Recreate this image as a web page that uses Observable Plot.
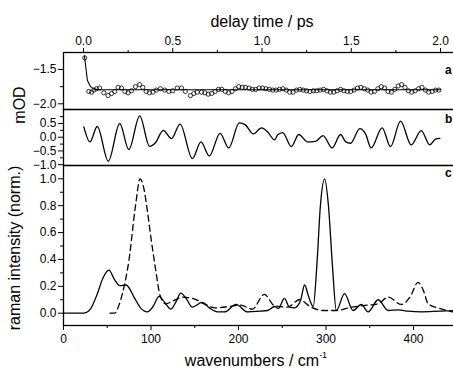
<!DOCTYPE html>
<html><head><meta charset="utf-8">
<script src="https://cdn.jsdelivr.net/npm/d3@7"></script>
<script src="https://cdn.jsdelivr.net/npm/@observablehq/plot@0.6"></script>
<style>
body{margin:0;background:#fff;}
#c{position:relative;width:453px;height:372px;overflow:hidden;font-family:"Liberation Sans",Arial,sans-serif;background:#fff;}
#c svg{position:absolute;left:0;max-width:none !important;}
.t{position:absolute;font-size:16px;color:#000;white-space:nowrap;line-height:18px;}
.lt{position:absolute;font-size:12px;font-weight:bold;color:#000;line-height:14px;}
</style></head><body><div id="c"></div>
<script>
// Panel a: transient absorption (circles) and fit (line)
const delayPts = [0.007,0.03,0.045,0.058,0.073,0.09,0.114,0.138,0.157,0.175,0.194,0.213,0.232,0.25,0.269,0.291,0.314,0.332,0.351,0.37,0.389,0.408,0.431,0.455,0.478,0.5,0.525,0.549,0.571,0.599,0.618,0.637,0.661,
 0.68,0.699,0.718,0.737,0.756,0.775,0.794,0.813,0.832,0.851,0.87,0.889,0.908,0.927,0.946,0.965,0.984,1.003,1.022,1.041,1.06,1.079,1.098,1.117,1.136,1.155,1.174,1.193,1.212,1.231,1.25,1.269,1.288,1.307,1.326,1.345,1.364,1.383,1.402,1.421,1.44,1.459,1.478,1.497,1.516,1.535,1.554,1.573,1.592,1.611,1.63,1.649,1.668,1.687,1.706,1.725,1.744,1.763,1.782,1.801,1.82,1.839,1.858,1.877,1.896,1.915,1.934,1.953,1.972,1.991];
const odPts = [-1.33,-1.82,-1.83,-1.80,-1.78,-1.77,-1.84,-1.88,-1.85,-1.82,-1.76,-1.77,-1.82,-1.84,-1.81,-1.75,-1.72,-1.76,-1.82,-1.84,-1.83,-1.80,-1.78,-1.80,-1.82,-1.81,-1.77,-1.77,-1.82,-1.88,-1.85,-1.83,-1.83,
 -1.84,-1.86,-1.85,-1.82,-1.79,-1.79,-1.82,-1.84,-1.82,-1.78,-1.75,-1.76,-1.76,-1.77,-1.79,-1.79,-1.77,-1.77,-1.78,-1.79,-1.80,-1.80,-1.79,-1.78,-1.80,-1.83,-1.83,-1.80,-1.79,-1.80,-1.81,-1.82,-1.81,-1.81,-1.80,-1.79,-1.81,-1.83,-1.83,-1.81,-1.79,-1.81,-1.82,-1.82,-1.80,-1.77,-1.76,-1.78,-1.80,-1.83,-1.82,-1.78,-1.75,-1.77,-1.82,-1.83,-1.79,-1.74,-1.72,-1.76,-1.81,-1.83,-1.81,-1.78,-1.76,-1.80,-1.83,-1.82,-1.80,-1.80];
const fitDelay = [0.005,0.022,0.04,0.06,0.1,0.2,2.0];
const fitOD = [-1.30,-1.66,-1.75,-1.79,-1.795,-1.795,-1.795];

// Panel b: oscillatory residual
const oscDelay = [0.002,0.036,0.077,0.139,0.203,0.254,0.315,0.37,0.403,0.447,0.493,0.541,0.61,0.658,0.705,0.765,0.814,0.873,0.905,0.952,0.997,1.031,1.07,1.087,1.116,1.164,1.206,1.255,1.30,1.342,1.393,1.44,1.468,1.496,1.548,1.58,1.611,1.673,1.72,1.776,1.836,1.892,1.94,1.972,1.996];
const oscVal = [0.38,-0.17,0.39,-0.87,0.50,-0.45,0.78,-0.33,-0.20,0.25,-0.05,0.48,-0.78,-0.17,-0.68,0.14,-0.39,0.52,0.46,0.12,0.34,0.20,-0.10,0.08,0.17,-0.34,0.10,-0.17,-0.15,0.06,-0.39,0.10,-0.16,-0.22,0.31,0.12,-0.39,0.34,-0.34,0.59,-0.28,0.24,-0.28,-0.07,-0.04];

// Panel c: raman spectra
const wnSolid = [0,20.5,25.6,30.7,38.7,45,52,58.3,64.4,71.6,80.6,88,95.9,102.3,109.2,115.6,122.6,128.9,134,140.1,147.3,158.5,166.7,175.9,184.1,197.1,210.5,223.8,233.2,241.4,245.5,252.5,258.2,263.9,270.9,275.5,280.3,285.4,289.5,293.6,298.4,302.8,307.4,311.8,321.2,330.9,340.4,348.1,359.6,371,382.5,393.8,409.2,429.6,450,465];
const ramanSolid = [0,0,0.005,0.03,0.145,0.26,0.32,0.25,0.205,0.21,0.12,0.04,0.01,0.05,0.125,0.08,0.03,0.09,0.15,0.11,0.045,0.08,0.04,0.01,0.01,0.065,0.01,0.015,0.02,0.05,0.035,0.11,0.045,0.04,0.095,0.21,0.12,0.05,0.35,0.8,1.0,0.8,0.35,0.02,0.145,0.02,0.065,0.01,0.10,0.02,0.025,0.015,0.01,0.015,0.02,0.02];
const wnDashed = [53.2,58.3,63.4,67.3,74.7,82.5,87.5,92.1,95.9,100.2,105.4,110.5,116.6,126.4,136,149.3,160.6,173.9,189.2,202.5,215.8,229.5,241,256.3,269.6,282.9,298.4,311.8,329,342.3,359.6,371,386.2,396.9,405.1,411.2,416.8,431.7,445,460];
const ramanDashed = [0,0,0.06,0.145,0.39,0.81,1.0,0.92,0.76,0.55,0.32,0.13,0.07,0.095,0.12,0.107,0.07,0.04,0.05,0.06,0.03,0.14,0.057,0.045,0.10,0.045,0.02,0.02,0.045,0.057,0.07,0.12,0.065,0.13,0.23,0.17,0.07,0.033,0.01,0];

// ticks
const delayTicks = [0,0.5,1.0,1.5,2.0];
const delayMinor = [0.25,0.75,1.25,1.75];
const odTicks = [-1.5,-2.0];
const odMinor = [-1.75];
const oscTicks = [0.5,0,-0.5,-1.0];
const oscMinor = [0.75,0.25,-0.25,-0.75];
const ramanTicks = [0,0.2,0.4,0.6,0.8,1.0];
const ramanMinor = [0.1,0.3,0.5,0.7,0.9];
const wnTicks = [0,100,200,300,400];
const wnMinor = [50,150,250,350,450];

const W = 470, ML = 63;
const fmt1 = d => d.toFixed(1).replace("-", "\u2212");
const style = {fontFamily:'"Liberation Sans", Arial, sans-serif', fontSize:"12px", background:"transparent", overflow:"visible", color:"#000", maxWidth:"none"};
const c = document.getElementById("c");

const pa = Plot.plot({
  width: W, height: 110, marginLeft: ML, marginRight: 0, marginTop: 52, marginBottom: 1,
  style,
  x: {domain: [-0.112, 2.168]},
  y: {domain: [-2.083, -1.252]},
  marks: [
    Plot.frame({stroke: "#000", strokeWidth: 1.3}),
    Plot.axisX({anchor: "top", ticks: delayTicks, tickFormat: fmt1, tickSize: 5, tickPadding: 3, label: null}),
    Plot.axisX({anchor: "top", ticks: delayMinor, tickFormat: () => "", tickSize: 3, label: null}),
    Plot.axisY({anchor: "left", ticks: odTicks, tickFormat: fmt1, tickSize: 5, tickPadding: 2, label: null}),
    Plot.axisY({anchor: "left", ticks: odMinor, tickFormat: () => "", tickSize: 3, label: null}),
    Plot.line(fitDelay, {x: fitDelay, y: fitOD, stroke: "#000", strokeWidth: 1.1}),
    Plot.dot(delayPts, {x: delayPts, y: odPts, r: 2.1, stroke: "#000", strokeWidth: 0.8, fill: "none"})
  ]
});
pa.style.top = "0px";
c.appendChild(pa);

const pb = Plot.plot({
  width: W, height: 58, marginLeft: ML, marginRight: 0, marginTop: 1, marginBottom: 1,
  style,
  x: {domain: [-0.112, 2.168], axis: null},
  y: {domain: [-1.03, 1.01]},
  marks: [
    Plot.frame({stroke: "#000", strokeWidth: 1.3}),
    Plot.axisY({anchor: "left", ticks: oscTicks, tickFormat: fmt1, tickSize: 5, tickPadding: 2, label: null}),
    Plot.axisY({anchor: "left", ticks: oscMinor, tickFormat: () => "", tickSize: 3, label: null}),
    Plot.line(oscDelay, {x: oscDelay, y: oscVal, curve: "monotone-x", stroke: "#000", strokeWidth: 1.3})
  ]
});
pb.style.top = "108px";
c.appendChild(pb);

const pc = Plot.plot({
  width: W, height: 208, marginLeft: ML, marginRight: 0, marginTop: 1, marginBottom: 47,
  style,
  x: {domain: [0, (W - ML) / 0.875]},
  y: {domain: [-0.0915, 1.099]},
  marks: [
    Plot.frame({stroke: "#000", strokeWidth: 1.3}),
    Plot.axisX({anchor: "bottom", ticks: wnTicks, tickFormat: d => String(d), tickSize: 5, tickPadding: 4, label: null}),
    Plot.axisX({anchor: "bottom", ticks: wnMinor, tickFormat: () => "", tickSize: 3, label: null}),
    Plot.axisY({anchor: "left", ticks: ramanTicks, tickFormat: fmt1, tickSize: 5, tickPadding: 2, label: null}),
    Plot.axisY({anchor: "left", ticks: ramanMinor, tickFormat: () => "", tickSize: 3, label: null}),
    Plot.line(wnDashed, {x: wnDashed, y: ramanDashed, curve: "monotone-x", stroke: "#000", strokeWidth: 1.3, strokeDasharray: "6,4"}),
    Plot.line(wnSolid, {x: wnSolid, y: ramanSolid, curve: "monotone-x", stroke: "#000", strokeWidth: 1.3})
  ]
});
pc.style.top = "164px";
c.appendChild(pc);

function addText(cls, txt, left, top, extra) {
  const d = document.createElement("div");
  d.className = cls;
  d.innerHTML = txt;
  d.style.left = left + "px";
  d.style.top = top + "px";
  if (extra) Object.assign(d.style, extra);
  c.appendChild(d);
  return d;
}
addText("t", "delay time / ps", 262, 13, {transform: "translateX(-50%)"});
addText("t", "wavenumbers / cm<sup style='font-size:9px;vertical-align:8px;line-height:0'>-1</sup>", 256, 352, {transform: "translateX(-50%)"});
addText("t", "mOD", 20, 105, {transform: "translate(-50%,-50%) rotate(-90deg)"});
addText("t", "raman intensity (norm.)", 15, 248, {transform: "translate(-50%,-50%) rotate(-90deg)"});
addText("lt", "a", 445, 63);
addText("lt", "b", 445, 112);
addText("lt", "c", 445, 166);
</script></body></html>
